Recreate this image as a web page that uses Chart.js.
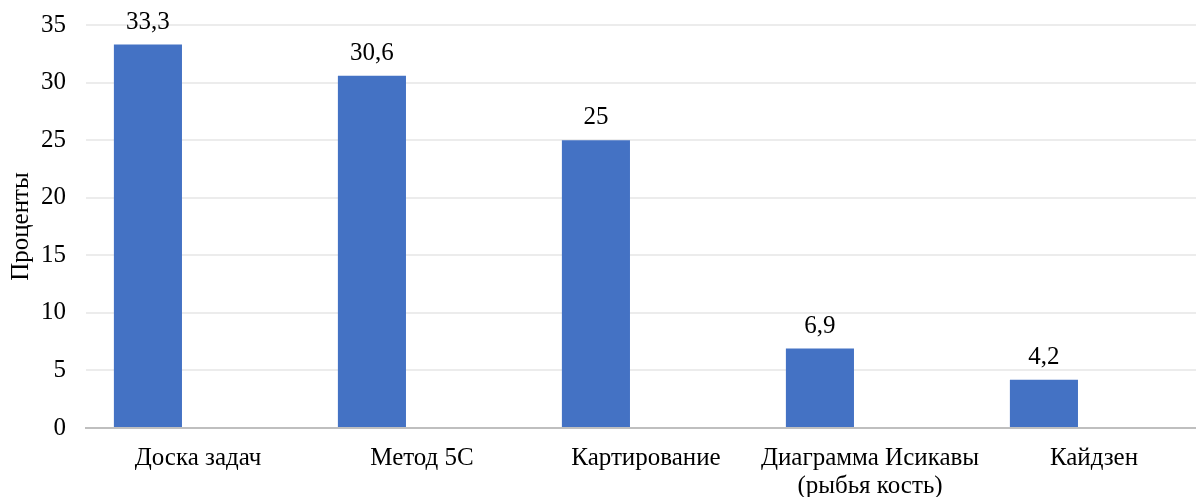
<!DOCTYPE html>
<html lang="ru">
<head>
  <meta charset="UTF-8" />
  <title>Методы</title>
  <script src="https://cdn.jsdelivr.net/npm/chart.js"></script>
  <style>
    html, body {
      margin: 0;
      padding: 0;
      background: #fff;
      overflow: hidden;
    }
    #wrap {
      width: 1206px;
      height: 497px;
      position: relative;
    }
  </style>
</head>
<body>
  <div id="wrap"><canvas id="chart"></canvas></div>

  <script>
    const categories = [
      'Доска задач',
      'Метод 5С',
      'Картирование',
      ['Диаграмма Исикавы', '(рыбья кость)'],
      'Кайдзен'
    ];
    const percents = [33.3, 30.6, 25, 6.9, 4.2];
    const yTicks = [0, 5, 10, 15, 20, 25, 30, 35];

    const fontFamily = '"Liberation Serif", "Times New Roman", serif';
    const fontSize = 25;

    // подписи значений над столбцами
    const valueLabels = {
      id: 'valueLabels',
      afterDatasetsDraw(chart) {
        const ctx = chart.ctx;
        const meta = chart.getDatasetMeta(0);
        ctx.save();
        ctx.font = fontSize + 'px ' + fontFamily;
        ctx.fillStyle = '#000';
        ctx.textAlign = 'center';
        ctx.textBaseline = 'alphabetic';
        meta.data.forEach((bar, i) => {
          const txt = String(percents[i]).replace('.', ',');
          ctx.fillText(txt, bar.x, bar.y - 16);
        });
        ctx.restore();
      }
    };

    new Chart(document.getElementById('chart').getContext('2d'), {
      type: 'bar',
      data: {
        labels: categories,
        datasets: [
          {
            label: 'Проценты',
            data: percents,
            backgroundColor: '#4472C4',
            categoryPercentage: 0.894,
            barPercentage: 0.68
          },
          {
            label: '',
            data: percents.map(() => null),
            backgroundColor: 'rgba(0,0,0,0)',
            categoryPercentage: 0.894,
            barPercentage: 0.68
          }
        ]
      },
      options: {
        responsive: true,
        maintainAspectRatio: false,
        animation: false,
        layout: { padding: { top: 25, right: 0, bottom: 0, left: 0 } },
        plugins: {
          legend: { display: false },
          tooltip: { enabled: false }
        },
        scales: {
          x: {
            afterFit(scale) { scale.height = 69; },
            grid: { display: false, drawTicks: false },
            border: { display: true, color: '#bfbfbf', width: 2 },
            ticks: {
              color: '#000',
              padding: 16,
              maxRotation: 0,
              autoSkip: false,
              font: { family: fontFamily, size: fontSize, lineHeight: 1.12 }
            }
          },
          y: {
            min: 0,
            max: 35,
            afterFit(scale) {
              scale.width = 86;
              scale.paddingTop = 0;
              scale.paddingBottom = 0;
            },
            afterBuildTicks(scale) { scale.ticks = yTicks.map(v => ({ value: v })); },
            grid: {
              drawTicks: false,
              color: '#ececec',
              lineWidth: 2
            },
            border: { display: false },
            ticks: {
              color: '#000',
              padding: 20,
              font: { family: fontFamily, size: fontSize }
            },
            title: {
              display: true,
              text: 'Проценты',
              color: '#000',
              padding: { top: 6, bottom: 0 },
              font: { family: fontFamily, size: fontSize, lineHeight: 1.2 }
            }
          }
        }
      },
      plugins: [valueLabels]
    });
  </script>
</body>
</html>
